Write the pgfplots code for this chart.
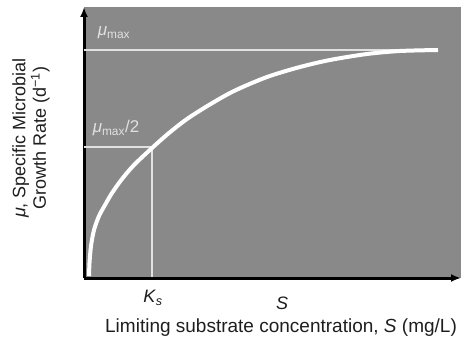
\documentclass[border=0pt]{standalone}
\usepackage{fontspec}
\setmainfont{Liberation Sans}
\usepackage{pgfplots}
\pgfplotsset{compat=1.18}
\usetikzlibrary{arrows.meta}
\definecolor{bg}{RGB}{137,137,137}
\definecolor{lightw}{RGB}{225,225,225}
\definecolor{txt}{RGB}{30,30,30}
\begin{document}
\begin{tikzpicture}[x=1pt,y=1pt]
\useasboundingbox (0,0) rectangle (462,338);
\begin{axis}[at={(84pt,60pt)}, anchor=south west,
  width=377pt, height=271pt, scale only axis,
  xmin=0, xmax=377, ymin=0, ymax=271,
  axis lines=left,
  axis line style={line width=3pt, -{Latex[length=10pt,width=8pt]}},
  xtick=\empty, ytick=\empty,
  axis background/.style={fill=bg},
  clip=false]
\addplot[lightw, line width=1.5pt] coordinates {(0,228) (354,228)};
\addplot[lightw, line width=1.2pt] coordinates {(0,131) (68,131) (68,1.5)};
\addplot[white, line width=4pt, smooth, tension=0.5] coordinates {
(5,2) (5.5,15) (7,32) (10,48) (15,62) (21,73) (28,85) (38,99) (50,113) (68,130)
(85,145) (103,159) (125,173) (150,187) (183,201) (216,211) (246,218)
(283,224) (316,227) (354,228)};
\end{axis}
\node[lightw, font=\fontsize{17}{20}\selectfont] at (114,305) {\textit{μ}\textsubscript{max}};
\node[lightw, font=\fontsize{17}{20}\selectfont] at (116,210) {\textit{μ}\textsubscript{max}/2};
\node[txt, font=\fontsize{18}{20}\selectfont] at (153,40) {\textit{K}\textsubscript{\textit{s}}};
\node[txt, font=\fontsize{18}{20}\selectfont] at (282,35) {\textit{S}};
\node[txt, font=\fontsize{19}{22}\selectfont] at (281,10) {Limiting substrate concentration, \textit{S} (mg/L)};
\node[txt, rotate=90, align=center, font=\fontsize{18}{20.5}\selectfont] at (31,200) {\textit{μ}, Specific Microbial\\Growth Rate (d\textsuperscript{−1})};
\end{tikzpicture}
\end{document}
